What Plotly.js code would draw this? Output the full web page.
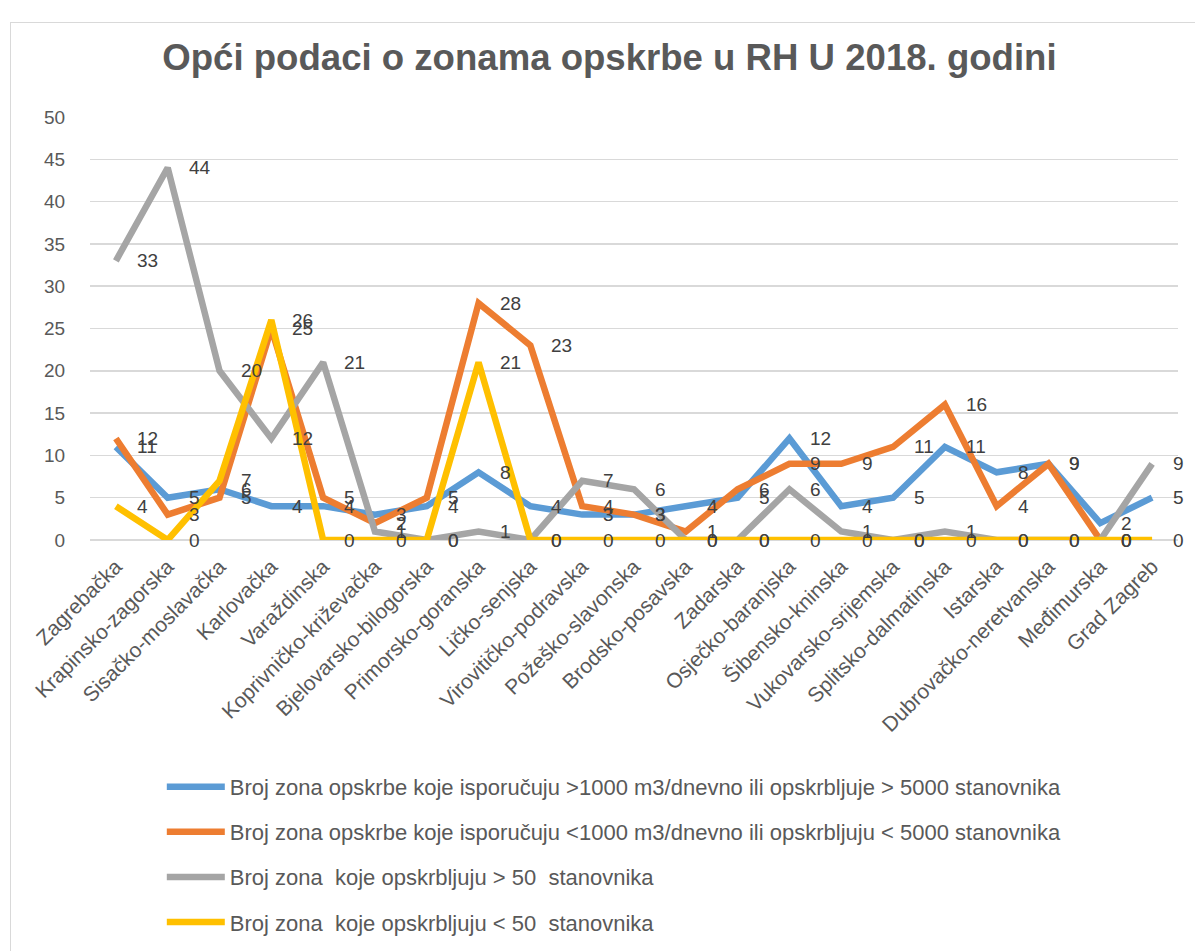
<!DOCTYPE html>
<html>
<head>
<meta charset="utf-8">
<script src="https://cdn.plot.ly/plotly-3.0.1.min.js"></script>
<style>
html,body{margin:0;padding:0;background:#fff;}
#wrap{position:relative;width:1195px;height:951px;}
#chart{width:1195px;height:951px;}
#frame{position:absolute;left:10px;top:22px;width:1200px;height:940px;border:1.5px solid #d9d9d9;pointer-events:none;}
</style>
</head>
<body>
<div id="wrap"><div id="chart"></div><div id="frame"></div></div>
<script>
const categories = ["Zagrebačka","Krapinsko-zagorska","Sisačko-moslavačka","Karlovačka","Varaždinska","Koprivničko-križevačka","Bjelovarsko-bilogorska","Primorsko-goranska","Ličko-senjska","Virovitičko-podravska","Požeško-slavonska","Brodsko-posavska","Zadarska","Osječko-baranjska","Šibensko-kninska","Vukovarsko-srijemska","Splitsko-dalmatinska","Istarska","Dubrovačko-neretvanska","Međimurska","Grad Zagreb"];
const seriesNames = [
  "Broj zona opskrbe koje isporučuju >1000 m3/dnevno ili opskrbljuje > 5000 stanovnika",
  "Broj zona opskrbe koje isporučuju <1000 m3/dnevno ili opskrbljuju < 5000 stanovnika",
  "Broj zona  koje opskrbljuju > 50  stanovnika",
  "Broj zona  koje opskrbljuju < 50  stanovnika"
];
const above1000 = [11,5,6,4,4,3,4,8,4,3,3,4,5,12,4,5,11,8,9,2,5];
const below1000 = [12,3,5,25,5,2,5,28,23,4,3,1,6,9,9,11,16,4,9,0,null];
const above50   = [33,44,20,12,21,1,0,1,0,7,6,0,0,6,1,0,1,0,0,0,9];
const below50   = [4,0,7,26,0,0,0,21,0,0,0,0,0,0,0,0,0,0,0,0,0];
const yTicks = [0,5,10,15,20,25,30,35,40,45,50];
const colors = ["#5B9BD5","#ED7D31","#A5A5A5","#FFC000"];
const FONT = 'Liberation Sans, Arial, sans-serif';

const allSeries = [above1000, below1000, above50, below50];
const traces = allSeries.map((vals, i) => ({
  type: 'scatter', mode: 'lines',
  x: categories, y: vals, name: seriesNames[i],
  legendgroup: 'g' + i,
  connectgaps: false,
  line: {color: colors[i], width: 6.5, shape: 'linear'},
  hoverinfo: 'skip'
}));

const annotations = [];
allSeries.forEach((vals) => {
  vals.forEach((v, j) => {
    if (v === null) return;
    annotations.push({
      x: categories[j], y: v, xref: 'x', yref: 'y',
      text: String(v), showarrow: false,
      xanchor: 'left', yanchor: 'middle', xshift: 19,
      font: {family: FONT, size: 19, color: '#404040'}
    });
  });
});

const layout = {
  width: 1195, height: 951,
  margin: {l: 90, r: 17, t: 117, b: 411, autoexpand: false},
  paper_bgcolor: '#fff', plot_bgcolor: '#fff',
  title: {text: '<b>Opći podaci o zonama opskrbe u RH U 2018. godini</b>',
          font: {family: FONT, size: 36.6, color: '#595959'},
          x: 0.51, xanchor: 'center', y: 0.94, yanchor: 'middle'},
  font: {family: FONT, color: '#595959'},
  xaxis: {type: 'category', showgrid: false, zeroline: false, showline: false,
          automargin: false,
          tickangle: -45, tickfont: {size: 21, color: '#595959'},
          ticks: 'outside', ticklen: 5, tickcolor: 'rgba(0,0,0,0)',
          range: [-0.5, categories.length - 0.5], fixedrange: true},
  yaxis: {range: [0, 50], tickvals: yTicks, ticktext: yTicks.map(String),
          automargin: false,
          showgrid: true, gridcolor: '#d9d9d9', gridwidth: 1.5,
          zeroline: true, zerolinecolor: '#d9d9d9', zerolinewidth: 1.5,
          showline: false, tickfont: {size: 19, color: '#595959'},
          ticks: 'outside', ticklen: 20, tickcolor: 'rgba(0,0,0,0)', fixedrange: true},
  showlegend: true,
  legend: {orientation: 'v', x: 0.066, xanchor: 'left', y: -0.534, yanchor: 'top',
           font: {size: 22, color: '#595959'}, itemwidth: 58, tracegroupgap: 13.5,
           bgcolor: 'rgba(0,0,0,0)', traceorder: 'grouped'},
  annotations: annotations
};

Plotly.newPlot('chart', traces, layout, {displayModeBar: false, staticPlot: true});
</script>
</body>
</html>
